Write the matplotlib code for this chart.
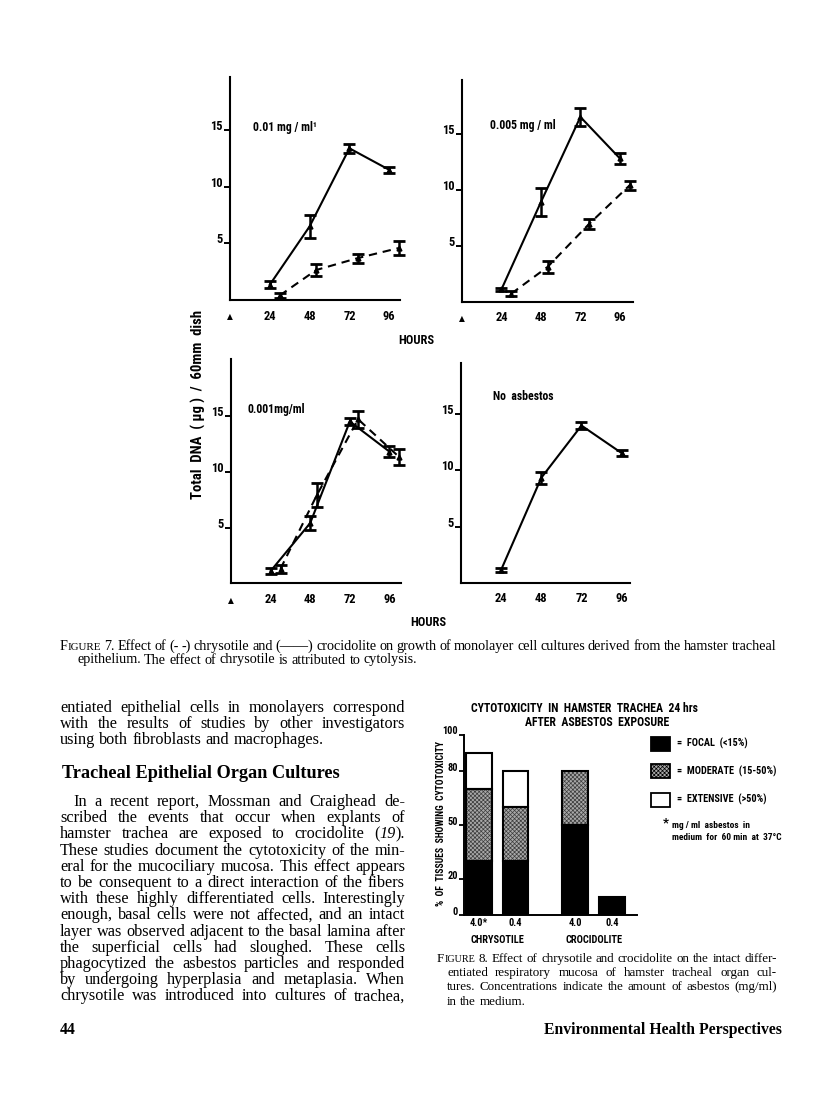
import matplotlib
matplotlib.use('Agg')
import matplotlib.pyplot as plt
import matplotlib.transforms as mtransforms
from matplotlib.patches import Rectangle

W, H = 816, 1095
SERIF = ['Liberation Serif', 'DejaVu Serif']
GK = dict(family=['Roboto Condensed', 'Open Sans Condensed', 'Liberation Sans Narrow', 'Roboto', 'DejaVu Sans'],
          weight='bold')
plt.rcParams['hatch.linewidth'] = 0.5

# ---- Figure 7: total DNA (ug) / 60mm dish vs hours ----
hours_solid = [24, 48, 72, 96]      # crocidolite, solid line
hours_dash = [30, 52, 77, 102]      # chrysotile, dashed line (offset in the original)

croc_001 = [1.35, 6.5, 13.4, 11.5]
croc_001_err = [0.3, 1.05, 0.4, 0.25]
chrys_001 = [0.4, 2.65, 3.7, 4.6]
chrys_001_err = [0.2, 0.5, 0.4, 0.6]

croc_0005 = [1.1, 8.9, 16.5, 12.8]
croc_0005_err = [0.15, 1.25, 0.8, 0.5]
chrys_0005 = [0.72, 3.1, 6.9, 10.4]
chrys_0005_err = [0.25, 0.5, 0.45, 0.4]

croc_0001 = [1.1, 5.4, 14.5, 11.8]
croc_0001_err = [0.25, 0.65, 0.35, 0.5]
chrys_0001 = [1.3, 7.9, 14.7, 11.3]
chrys_0001_err = [0.35, 1.05, 0.75, 0.7]

control = [1.15, 9.35, 14.0, 11.55]
control_err = [0.18, 0.55, 0.3, 0.3]

panel_labels = ['0.01 mg / ml\u00b9', '0.005 mg / ml', '0.001mg/ml', 'No  asbestos']
dna_ticks = [5, 10, 15]

# ---- Figure 8: % of tissues showing cytotoxicity ----
conc_labels = ['4.0*', '0.4', '4.0', '0.4']
mineral_labels = ['CHRYSOTILE', 'CROCIDOLITE']
focal = [30, 30, 50, 10]
moderate = [40, 30, 30, 0]
extensive = [20, 20, 0, 0]
pct_ticks = [0, 20, 50, 80, 100]
legend_labels = ['=  FOCAL  (<15%)', '=  MODERATE  (15-50%)', '=  EXTENSIVE  (>50%)']

# ---- page text ----
fig7_caption = [
    "F^IGURE^ 7. Effect of (- -) chrysotile and (\u2014\u2014) crocidolite on growth of monolayer cell cultures derived from the hamster tracheal",
    "epithelium. The effect of chrysotile is attributed to cytolysis.",
]
fig8_caption = [
    "F^IGURE^ 8. Effect of chrysotile and crocidolite on the intact differ-",
    "entiated respiratory mucosa of hamster tracheal organ cul-",
    "tures. Concentrations indicate the amount of asbestos (mg/ml)",
    "in the medium.",
]
body_intro = [
    "entiated epithelial cells in monolayers correspond",
    "with the results of studies by other investigators",
    "using both fibroblasts and macrophages.",
]
heading = "Tracheal Epithelial Organ Cultures"
body_para = [
    "In a recent report, Mossman and Craighead de-",
    "scribed the events that occur when explants of",
    "hamster trachea are exposed to crocidolite (|19|).",
    "These studies document the cytotoxicity of the min-",
    "eral for the mucociliary mucosa. This effect appears",
    "to be consequent to a direct interaction of the fibers",
    "with these highly differentiated cells. Interestingly",
    "enough, basal cells were not affected, and an intact",
    "layer was observed adjacent to the basal lamina after",
    "the superficial cells had sloughed. These cells",
    "phagocytized the asbestos particles and responded",
    "by undergoing hyperplasia and metaplasia. When",
    "chrysotile was introduced into cultures of trachea,",
]

fig = plt.figure(figsize=(W / 100, H / 100), dpi=100)
page = fig.add_axes([0, 0, 1, 1])
page.set_xlim(0, W)
page.set_ylim(H, 0)
page.axis('off')
renderer = fig.canvas.get_renderer()


def px_axes(left, top, right, bottom):
    return fig.add_axes([left / W, 1 - bottom / H, (right - left) / W, (bottom - top) / H])


def text_width(s, **kw):
    t = page.text(0, 0, s, **kw)
    w = t.get_window_extent(renderer).width
    t.remove()
    return w


def fit_size(s, width, **kw):
    return 10 * width / text_width(s, fontsize=10, **kw)


def split_runs(word, size):
    # '|' toggles italic, '^' toggles small caps
    runs, buf, italic, small = [], '', False, False
    for ch in word + '\0':
        if ch in '|^\0':
            if buf:
                runs.append((buf.upper() if small else buf,
                             size * 0.78 if small else size,
                             'italic' if italic else 'normal'))
            buf = ''
            if ch == '|':
                italic = not italic
            elif ch == '^':
                small = not small
        else:
            buf += ch
    return runs


def line_natural(line, size, weight='normal', family=SERIF):
    words = [split_runs(w, size) for w in line.split(' ')]
    widths = [[text_width(s, fontsize=fs, style=st, weight=weight, family=family)
               for s, fs, st in wr] for wr in words]
    space = (text_width('a a', fontsize=size, weight=weight, family=family)
             - text_width('aa', fontsize=size, weight=weight, family=family))
    return words, widths, space


def draw_line(line, x0, x1, y, size, justify=True, weight='normal', family=SERIF):
    words, widths, space = line_natural(line, size, weight, family)
    total = sum(sum(ws) for ws in widths)
    gap = (x1 - x0 - total) / (len(words) - 1) if justify and len(words) > 1 else space
    x = x0
    for wr, ws in zip(words, widths):
        for (s, fs, st), w in zip(wr, ws):
            page.text(x, y, s, fontsize=fs, style=st, weight=weight, family=family,
                      ha='left', va='baseline')
            x += w
        x += gap


def block_size(lines, spans, space_frac=1.0):
    ratios = []
    for line, (x0, x1) in zip(lines, spans):
        words, widths, space = line_natural(line, 10)
        nat = sum(sum(ws) for ws in widths) + space_frac * space * (len(words) - 1)
        ratios.append((x1 - x0) / nat)
    return 10 * min(ratios)


# ---------------- Figure 7 panels ----------------
panels = [
    (croc_001, croc_001_err, chrys_001, chrys_001_err, (230, 77, 400, 300), 102.5, 19.7, (253, 128), True),
    (croc_0005, croc_0005_err, chrys_0005, chrys_0005_err, (462, 80, 633, 301.7), 104, 19.8, (490, 125), True),
    (croc_0001, croc_0001_err, chrys_0001, chrys_0001_err, (231, 359, 401, 583.3), 103, 20.1, (248, 409), True),
    (control, control_err, None, None, (461, 362.7, 630, 582.7), 101, 19.6, (493, 397), False),
]
for (solid, serr, dash, derr, box, xmax, ymax, lab_xy, arrow), lab in zip(panels, panel_labels):
    ax = px_axes(*box)
    ax.errorbar(hours_solid, solid, yerr=serr, color='black', lw=1.5, marker='^', ms=3.5,
                capsize=4.5, capthick=2.0, elinewidth=1.8, clip_on=False)
    if dash is not None:
        ax.errorbar(hours_dash, dash, yerr=derr, color='black', lw=1.5, ls=(0, (4, 2.8)),
                    marker='^', ms=3.5, capsize=4.5, capthick=2.0, elinewidth=1.8, clip_on=False)
    ax.set_xlim(0, xmax)
    ax.set_ylim(0, ymax)
    ax.set_facecolor('none')
    for side in ['top', 'right']:
        ax.spines[side].set_visible(False)
    for side in ['left', 'bottom']:
        ax.spines[side].set_linewidth(1.5)
    ax.set_yticks(dna_ticks)
    ax.set_yticklabels([str(t) for t in dna_ticks], fontsize=9, **GK)
    for t in ax.get_yticklabels():
        t.set_va('baseline')
    ax.tick_params(axis='y', direction='out', length=4, width=1.4, pad=1.5)
    ax.set_xticks(hours_solid)
    ax.set_xticklabels([str(h) for h in hours_solid], fontsize=9, **GK)
    ax.tick_params(axis='x', length=0, pad=7)
    if arrow:
        ax.annotate('\u25b2', xy=(0, 0), xytext=(0, -17), textcoords='offset pixels',
                    ha='center', va='center', fontsize=5.5, family=['DejaVu Sans'],
                    annotation_clip=False)
    page.text(lab_xy[0], lab_xy[1], lab, fontsize=8.5, ha='left', va='center', **GK)

page.text(416.7, 341, 'HOURS', fontsize=9, ha='center', va='center', **GK)
page.text(428, 623, 'HOURS', fontsize=9, ha='center', va='center', **GK)
dna_label = 'Total  DNA  ( \u03bcg )  /  60mm  dish'
page.text(198, 404, dna_label, rotation=90, ha='center', va='center',
          fontsize=fit_size(dna_label, 190, **GK), **GK)

# ---------------- Figure 8 bars ----------------
bx = px_axes(464, 734.5, 637, 915)
pos = [0, 1, 2.63, 3.63]
mid = [f + m for f, m in zip(focal, moderate)]
bx.bar(pos, focal, width=0.7, color='black', lw=0)
bx.bar(pos, moderate, bottom=focal, width=0.7, facecolor='#a8a8a8', edgecolor='#3c3c3c',
       hatch='xxxxxxxx', lw=0)
bx.bar(pos, extensive, bottom=mid, width=0.7, facecolor='white', lw=0)
for bottoms, heights in [([0] * 4, focal), (focal, moderate), (mid, extensive)]:
    keep = [i for i, h in enumerate(heights) if h > 0]
    bx.bar([pos[i] for i in keep], [heights[i] for i in keep], bottom=[bottoms[i] for i in keep],
           width=0.7, fill=False, edgecolor='black', lw=1.5)
bx.set_xlim(-0.403, 4.31)
bx.set_ylim(0, 100)
bx.set_facecolor('none')
for side in ['top', 'right']:
    bx.spines[side].set_visible(False)
for side in ['left', 'bottom']:
    bx.spines[side].set_linewidth(1.4)
bx.set_yticks(pct_ticks)
bx.set_yticklabels([str(t) for t in pct_ticks], fontsize=7.5, **GK)
for t in bx.get_yticklabels():
    t.set_va('baseline')
bx.tick_params(axis='y', direction='out', length=3.5, width=1.3, pad=1)
bx.set_xticks(pos)
bx.set_xticklabels(conc_labels, fontsize=7.5, **GK)
bx.tick_params(axis='x', length=0, pad=2)
trans = mtransforms.blended_transform_factory(bx.transData, bx.transAxes)
for i, name in enumerate(mineral_labels):
    bx.text((pos[2 * i] + pos[2 * i + 1]) / 2, -0.139, name, transform=trans, ha='center',
            va='center', fontsize=7.5, **GK)

pct_label = '%  OF  TISSUES  SHOWING  CYTOTOXICITY'
page.text(441.5, 823, pct_label, rotation=90, ha='center', va='center',
          fontsize=fit_size(pct_label, 165, **GK), **GK)

title1 = 'CYTOTOXICITY  IN  HAMSTER  TRACHEA  24 hrs'
tsize = fit_size(title1, 228, **GK)
page.text(584.5, 708, title1, ha='center', va='center', fontsize=tsize, **GK)
page.text(597, 722, 'AFTER  ASBESTOS  EXPOSURE', ha='center', va='center', fontsize=tsize, **GK)

legend_boxes = [
    dict(facecolor='black', edgecolor='black'),
    dict(facecolor='#a8a8a8', edgecolor='black', hatch='xxxxxxxx'),
    dict(facecolor='white', edgecolor='black'),
]
lsize = fit_size(legend_labels[1], 100, **GK)
for (ytop, lab, style) in zip([736.7, 764.3, 792.7], legend_labels, legend_boxes):
    page.add_patch(Rectangle((650.7, ytop), 19.3, 14, lw=1.3, **style))
    page.text(676.7, ytop + 7, lab, ha='left', va='center', fontsize=lsize, **GK)
note2 = 'medium  for  60 min  at  37\u00b0C'
nsize = fit_size(note2, 110, **GK)
page.text(662.5, 823, '*', ha='left', va='center', fontsize=nsize * 1.4, **GK)
page.text(671.7, 826, 'mg / ml  asbestos  in', ha='left', va='center', fontsize=nsize, **GK)
page.text(671.7, 838, note2, ha='left', va='center', fontsize=nsize, **GK)

# ---------------- captions and body text ----------------
s7 = block_size(fig7_caption[:1], [(60, 776)], space_frac=0.85)
draw_line(fig7_caption[0], 60, 776, 650, s7)
draw_line(fig7_caption[1], 77, 776, 663.5, s7, justify=False)

spans8 = [(437, 777), (447, 777), (447, 777)]
s8 = block_size(fig8_caption[:3], spans8)
for k, line in enumerate(fig8_caption):
    x0, x1 = spans8[min(k, 2)]
    draw_line(line, x0, x1, 962 + 14.2 * k, s8, justify=k < 3)

body_lines = body_intro[:2] + body_para[:-1]
body_spans = [(60, 405)] * 2 + [(73.3, 405)] + [(60, 405)] * (len(body_para) - 2)
sb = block_size(body_lines, body_spans)
for k, line in enumerate(body_intro):
    draw_line(line, 60, 405, 712 + 16.2 * k, sb, justify=k < 2)
hsize = fit_size(heading, 278, family=SERIF, weight='bold')
page.text(61.5, 778, heading, ha='left', va='baseline', family=SERIF, weight='bold', fontsize=hsize)
for k, line in enumerate(body_para):
    x0 = 73.3 if k == 0 else 60
    draw_line(line, x0, 405, 806 + 16.2 * k, sb)

foot = 'Environmental Health Perspectives'
fsize = fit_size(foot, 238, family=SERIF, weight='bold')
page.text(60, 1034, '44', ha='left', va='baseline', family=SERIF, weight='bold', fontsize=fsize)
page.text(782, 1034, foot, ha='right', va='baseline', family=SERIF, weight='bold', fontsize=fsize)

fig.savefig('out.png', dpi=100)
